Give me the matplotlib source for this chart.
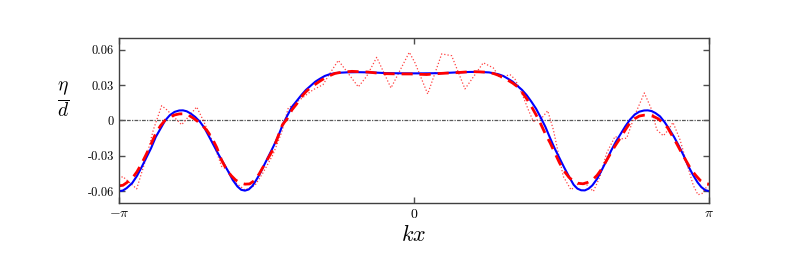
import numpy as np
import matplotlib.pyplot as plt

plt.rcParams['mathtext.fontset'] = 'cm'
plt.rcParams['font.family'] = 'serif'
plt.rcParams['font.serif'] = ['cmr10', 'DejaVu Serif']
plt.rcParams['axes.formatter.use_mathtext'] = True

PI = np.pi

# Blue solid curve
kx_blue = [-PI, -3.10, -3.06, -3.00, -2.95, -2.90, -2.85, -2.80, -2.75, -2.70,
           -2.65, -2.60, -2.55, -2.50, -2.46, -2.42, -2.38, -2.33, -2.28, -2.23,
           -2.18, -2.13, -2.08, -2.03, -1.98, -1.93, -1.88, -1.84, -1.80, -1.76,
           -1.72, -1.68, -1.64, -1.60, -1.55, -1.50, -1.45, -1.40, -1.35, -1.30,
           -1.25, -1.20, -1.15, -1.10, -1.05, -1.00, -0.95, -0.90, -0.85, -0.80,
           -0.70, -0.60, -0.45, -0.30, -0.10, 0.10, 0.30, 0.45, 0.60, 0.70,
           0.80, 0.85, 0.90, 0.95, 1.00, 1.05, 1.10, 1.15, 1.20, 1.25,
           1.30, 1.35, 1.40, 1.45, 1.50, 1.55, 1.60, 1.65, 1.70, 1.74,
           1.78, 1.82, 1.86, 1.90, 1.95, 2.00, 2.05, 2.10, 2.15, 2.20,
           2.25, 2.30, 2.35, 2.40, 2.45, 2.49, 2.53, 2.57, 2.62, 2.67,
           2.72, 2.77, 2.82, 2.87, 2.92, 2.97, 3.02, 3.06, 3.10, PI]
eta_blue = [-0.0600, -0.0594, -0.0574, -0.0530, -0.0470, -0.0395, -0.0315, -0.0235, -0.0140, -0.0070,
            0.0000, 0.0045, 0.0073, 0.0085, 0.0086, 0.0078, 0.0060, 0.0030, -0.0010, -0.0065,
            -0.0140, -0.0215, -0.0290, -0.0360, -0.0430, -0.0505, -0.0560, -0.0588, -0.0595, -0.0585,
            -0.0555, -0.0505, -0.0450, -0.0385, -0.0305, -0.0225, -0.0140, -0.0040, 0.0040, 0.0115,
            0.0165, 0.0215, 0.0260, 0.0295, 0.0330, 0.0355, 0.0378, 0.0392, 0.0400, 0.0405,
            0.0409, 0.0410, 0.0408, 0.0402, 0.0400, 0.0400, 0.0402, 0.0408, 0.0412, 0.0412,
            0.0408, 0.0400, 0.0392, 0.0378, 0.0355, 0.0330, 0.0295, 0.0260, 0.0215, 0.0160,
            0.0100, 0.0025, -0.0055, -0.0150, -0.0240, -0.0320, -0.0400, -0.0475, -0.0545, -0.0578,
            -0.0592, -0.0593, -0.0578, -0.0550, -0.0495, -0.0420, -0.0340, -0.0255, -0.0180, -0.0115,
            -0.0050, 0.0007, 0.0050, 0.0075, 0.0085, 0.0086, 0.0080, 0.0064, 0.0035, -0.0015,
            -0.0075, -0.0140, -0.0215, -0.0295, -0.0385, -0.0460, -0.0525, -0.0565, -0.0590, -0.0600]

# Red dashed curve
kx_dash = [-PI, -3.10, -3.06, -3.00, -2.95, -2.90, -2.85, -2.80, -2.75, -2.70,
           -2.65, -2.60, -2.55, -2.50, -2.45, -2.40, -2.35, -2.30, -2.25, -2.20,
           -2.15, -2.10, -2.05, -2.00, -1.95, -1.90, -1.85, -1.80, -1.75, -1.70,
           -1.65, -1.60, -1.55, -1.50, -1.45, -1.40, -1.35, -1.30, -1.25, -1.20,
           -1.15, -1.10, -1.00, -0.95, -0.90, -0.84, -0.75, -0.66, -0.49, -0.34,
           -0.17, -0.04, 0.135, 0.295, 0.455, 0.614, 0.774, 0.85, 0.90, 0.95,
           1.00, 1.05, 1.10, 1.15, 1.20, 1.25, 1.30, 1.35, 1.40, 1.45,
           1.50, 1.55, 1.60, 1.65, 1.70, 1.75, 1.80, 1.85, 1.90, 1.95,
           2.00, 2.05, 2.10, 2.15, 2.20, 2.25, 2.30, 2.35, 2.40, 2.45,
           2.50, 2.55, 2.60, 2.65, 2.70, 2.75, 2.80, 2.85, 2.90, 2.95,
           3.00, 3.05, 3.10, PI]
eta_dash = [-0.0554, -0.0550, -0.0528, -0.0490, -0.0435, -0.0365, -0.0285, -0.0200, -0.0110, -0.0045,
            0.0003, 0.0030, 0.0047, 0.0056, 0.0057, 0.0045, 0.0020, -0.0010, -0.0045, -0.0090,
            -0.0150, -0.0230, -0.0335, -0.0410, -0.0465, -0.0505, -0.0530, -0.0540, -0.0538, -0.0510,
            -0.0455, -0.0385, -0.0315, -0.0245, -0.0140, -0.0035, 0.0015, 0.0090, 0.0140, 0.0200,
            0.0245, 0.0280, 0.0335, 0.0360, 0.0380, 0.0400, 0.0412, 0.0417, 0.0411, 0.0398,
            0.0395, 0.0395, 0.0390, 0.0400, 0.0406, 0.0415, 0.0410, 0.0398, 0.0383, 0.0365,
            0.0342, 0.0318, 0.0288, 0.0240, 0.0185, 0.0120, 0.0048, -0.0030, -0.0115, -0.0190,
            -0.0275, -0.0360, -0.0430, -0.0482, -0.0515, -0.0533, -0.0537, -0.0525, -0.0505, -0.0465,
            -0.0410, -0.0340, -0.0270, -0.0205, -0.0145, -0.0080, -0.0020, 0.0015, 0.0038, 0.0045,
            0.0044, 0.0035, 0.0015, -0.0020, -0.0060, -0.0130, -0.0200, -0.0275, -0.0345, -0.0415,
            -0.0465, -0.0510, -0.0535, -0.0540]

# Red dotted curve
kx_dot = [-PI, -3.102, -2.953, -2.847, -2.776, -2.687, -2.634, -2.474, -2.314, -2.244,
          -2.137, -2.048, -1.978, -1.889, -1.800, -1.693, -1.605, -1.502, -1.409, -1.339,
          -1.289, -1.214, -1.076, -0.969, -0.895, -0.806, -0.717, -0.593, -0.504, -0.397,
          -0.245, -0.050, 0.011, 0.146, 0.295, 0.401, 0.543, 0.738, 0.845, 0.916,
          1.022, 1.076, 1.147, 1.217, 1.271, 1.360, 1.424, 1.484, 1.537, 1.590,
          1.672, 1.750, 1.839, 1.910, 1.981, 2.052, 2.141, 2.194, 2.265, 2.354,
          2.453, 2.531, 2.585, 2.655, 2.708, 2.758, 2.833, 2.904, 2.974, 3.024,
          3.067, 3.110, PI]
eta_dot = [-0.050, -0.0475, -0.058, -0.0305, -0.008, 0.0126, 0.0092, -0.0036, 0.0115, 0.0,
           -0.019, -0.039, -0.042, -0.0535, -0.059, -0.055, -0.044, -0.029, -0.010, 0.0106,
           0.013, 0.0177, 0.026, 0.0304, 0.040, 0.051, 0.0417, 0.0285, 0.0375, 0.0536,
           0.0276, 0.0579, 0.0489, 0.0225, 0.0565, 0.055, 0.0268, 0.049, 0.0446, 0.036,
           0.039, 0.035, 0.0234, 0.0092, -0.0008, 0.002, 0.0083, -0.0078, -0.0276, -0.0475,
           -0.0588, -0.0537, -0.0545, -0.0602, -0.0475, -0.0276, -0.0135, -0.0157, -0.015, 0.005,
           0.0234, 0.0092, -0.0078, -0.013, -0.008, -0.0016, -0.0163, -0.036, -0.055, -0.063,
           -0.062, -0.057, -0.054]

yticks = [0.06, 0.03, 0, -0.03, -0.06]
ytick_labels = ['0.06', '0.03', '0', '-0.03', '-0.06']
xticks = [-PI, 0, PI]
xtick_labels = [r'$-\pi$', r'$0$', r'$\pi$']

fig = plt.figure(figsize=(7.89, 2.54), dpi=100)
ax = fig.add_axes([0.1508, 0.2008, 0.7478, 0.6496])

ax.axhline(0, color='0.35', lw=0.9, ls=(0, (3, 1, 1, 1)))
ax.plot(kx_dot, eta_dot, color='red', lw=0.9, ls=':', alpha=0.75)
ax.plot(kx_blue, eta_blue, color='blue', lw=1.5)
ax.plot(kx_dash, eta_dash, color='red', lw=2.0, ls=(0, (4, 2.5)))

ax.set_xlim(-PI, PI)
ax.set_ylim(-0.07, 0.07)
ax.set_xticks(xticks)
ax.set_xticklabels(xtick_labels, fontsize=10)
ax.set_yticks(yticks)
ax.set_yticklabels(ytick_labels, fontsize=9)
ax.tick_params(direction='in', top=True, right=True, length=4, width=1, color='0.3')
for s in ax.spines.values():
    s.set_color('0.25')
    s.set_linewidth(1.0)

ax.set_xlabel(r'$kx$', fontsize=16, labelpad=2)
ax.set_ylabel(r'$\frac{\eta}{d}$', fontsize=20, rotation=0, labelpad=22, va='center')
ax.yaxis.set_label_coords(-0.095, 0.62)

fig.savefig('out.png', dpi=100)
